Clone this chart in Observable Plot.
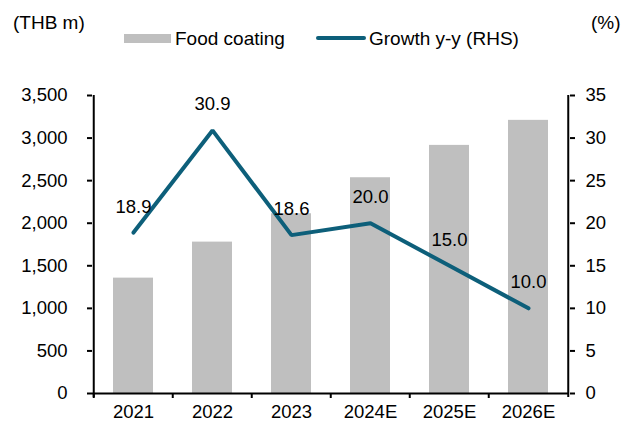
<!DOCTYPE html>
<html>
<head>
<meta charset="utf-8">
<script src="https://cdn.jsdelivr.net/npm/d3@7"></script>
<script src="https://cdn.jsdelivr.net/npm/@observablehq/plot@0.6"></script>
<style>
  html, body { margin: 0; padding: 0; background: #fff; }
  #wrap { position: relative; width: 621px; height: 423px; font-family: "Liberation Sans", Arial, sans-serif; font-size: 19px; color: #000; }
  .abs { position: absolute; white-space: nowrap; line-height: 1; }
  .sw { position: absolute; }
</style>
</head>
<body>
<div id="wrap">
  <div class="abs" style="left:13px; top:13px;">(THB m)</div>
  <div class="abs" style="left:591px; top:13px;">(%)</div>
  <div class="sw" style="left:124px; top:34px; width:47px; height:9px; background:#bfbfbf;"></div>
  <div class="abs" style="left:175px; top:29px;">Food coating</div>
  <div class="sw" style="left:316px; top:36px; width:50px; height:4px; border-radius:2px; background:#0d5f7a;"></div>
  <div class="abs" style="left:369px; top:29px;">Growth y-y (RHS)</div>
</div>
<script>
const years = ["2021", "2022", "2023", "2024E", "2025E", "2026E"];
const foodCoating = [1355, 1778, 2111, 2534, 2914, 3208];
const growth = [18.9, 30.9, 18.6, 20.0, 15.0, 10.0];
const leftTicks = [0, 500, 1000, 1500, 2000, 2500, 3000, 3500];

const data = years.map((y, i) => ({year: y, value: foodCoating[i], growth: growth[i]}));
const ratio = 100; // right axis 0-35 maps to left 0-3500

const W = 621, H = 423, ML = 92, MR = 52, MT = 95, MB = 30;
const step = (W - ML - MR) / years.length;
const FS = 18.5;

const chart = Plot.plot({
  width: W,
  height: H,
  marginLeft: ML,
  marginRight: MR,
  marginTop: MT,
  marginBottom: MB,
  style: {fontFamily: "'Liberation Sans', Arial, sans-serif", fontSize: FS + "px", color: "#000", background: "#fff"},
  x: {domain: years, paddingInner: 0.5, paddingOuter: 0.25, label: null},
  y: {domain: [0, 3500], label: null},
  marks: [
    Plot.barY(data, {x: "year", y: "value", fill: "#bfbfbf"}),
    Plot.ruleY([0], {stroke: "#000", strokeWidth: 2}),
    Plot.ruleX([years[0]], {x: d => d, dx: -step / 2, stroke: "#000", strokeWidth: 2, insetBottom: -4}),
    Plot.ruleX([years[years.length - 1]], {x: d => d, dx: step / 2, stroke: "#000", strokeWidth: 2, insetBottom: -4}),
    Plot.ruleX(years, {x: d => d, dx: -step / 2, stroke: "#000", strokeWidth: 2, insetTop: H - MT - MB, insetBottom: -5}),
    Plot.axisX({tickSize: 0, tickPadding: 11, fontSize: FS}),
    Plot.axisY({anchor: "left", ticks: leftTicks, tickSize: 5, tickPadding: 20, strokeWidth: 2, tickFormat: d => d3.format(",")(d), fontSize: FS}),
    Plot.axisY({anchor: "right", ticks: leftTicks, tickSize: 5, tickPadding: 11, strokeWidth: 2, tickFormat: d => String(d / ratio), fontSize: FS}),
    Plot.line(data, {x: "year", y: d => d.growth * ratio, stroke: "#0d5f7a", strokeWidth: 4, strokeLinejoin: "miter", strokeLinecap: "round"}),
    Plot.text(data, {x: "year", y: d => d.growth * ratio, text: d => d.growth.toFixed(1), dy: -26, fontSize: FS, fill: "#000"})
  ]
});
chart.style.position = "absolute";
chart.style.left = "0px";
chart.style.top = "0px";
document.getElementById("wrap").prepend(chart);
</script>
</body>
</html>
